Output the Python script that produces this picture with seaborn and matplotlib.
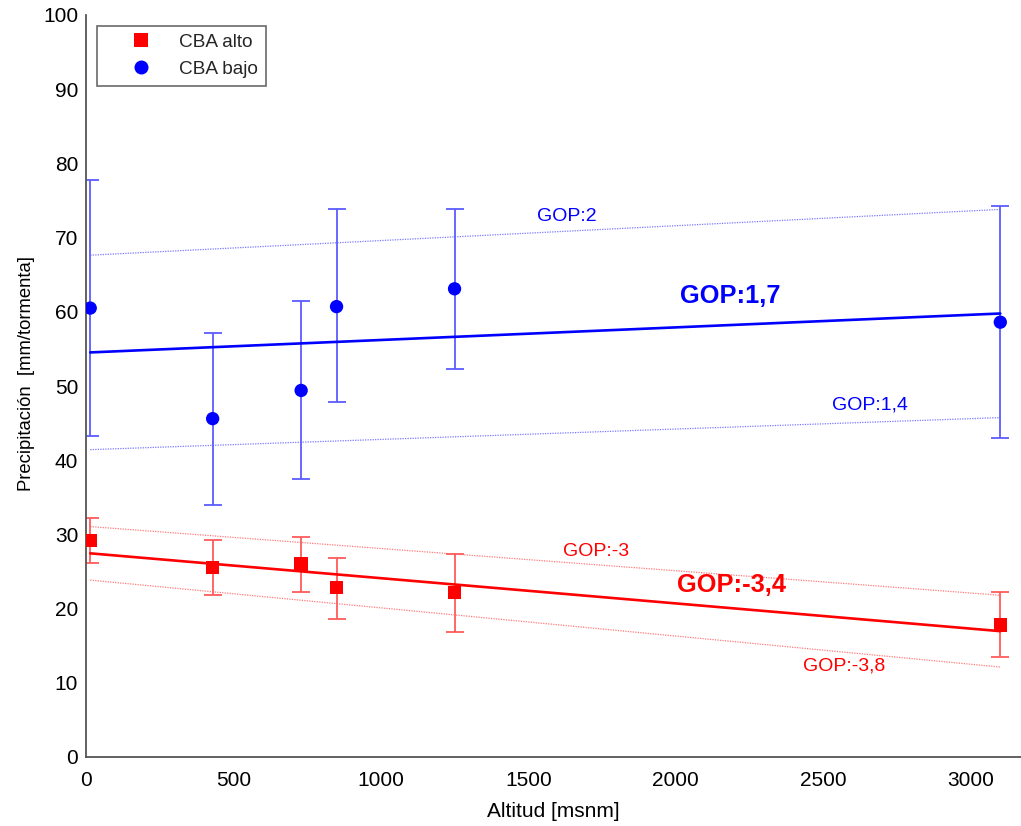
import numpy as np
import pandas as pd
import matplotlib
matplotlib.use("Agg")
import matplotlib.pyplot as plt
import seaborn as sns

# Station altitudes [m a.s.l.]
altitud = [15, 430, 730, 850, 1250, 3100]

# CBA alto: mean precipitation per storm and error-bar limits
alto_media = [29.2, 25.5, 26.0, 22.8, 22.2, 17.8]
alto_inf = [26.2, 21.8, 22.3, 18.6, 16.9, 13.5]
alto_sup = [32.2, 29.2, 29.7, 26.8, 27.4, 22.2]

# CBA bajo: mean precipitation per storm and error-bar limits
bajo_media = [60.5, 45.6, 49.4, 60.7, 63.1, 58.6]
bajo_inf = [43.2, 34.0, 37.4, 47.8, 52.3, 43.0]
bajo_sup = [77.8, 57.2, 61.4, 73.8, 73.9, 74.3]

# Orographic precipitation gradients (mm per 1000 m) and intercepts
gop_bajo = [2.0, 1.7, 1.4]
ord_bajo = [67.6, 54.5, 41.4]
gop_alto = [-3.0, -3.4, -3.8]
ord_alto = [31.1, 27.5, 23.9]

# Label positions (altitude, precipitation)
pos_bajo = [(1631, 72.9), (2184, 62.1), (2658, 47.4)]
pos_alto = [(1731, 27.7), (2189, 23.2), (2569, 12.2)]

x_ticks = [0, 500, 1000, 1500, 2000, 2500, 3000]
y_ticks = [0, 10, 20, 30, 40, 50, 60, 70, 80, 90, 100]

sns.set_theme(style="white")
plt.rcParams["font.family"] = ["Liberation Sans", "DejaVu Sans"]

ROJO = "#ff0000"
AZUL = "#0000ff"
ROJO_CLARO = "#ff5c5c"
AZUL_CLARO = "#5c5cff"

fig = plt.figure(figsize=(10.21, 8.26), dpi=100)
ax = fig.add_axes([85.8 / 1021, 69 / 826, 1 - 85.8 / 1021, 742 / 826])

grupos = ["CBA alto"] * len(altitud) + ["CBA bajo"] * len(altitud)
df = pd.DataFrame({
    "Altitud": altitud + altitud,
    "Precipitacion": alto_media + bajo_media,
    "Grupo": grupos,
})

# Error bars
for media, inf, sup, col in [(alto_media, alto_inf, alto_sup, ROJO_CLARO),
                             (bajo_media, bajo_inf, bajo_sup, AZUL_CLARO)]:
    m = np.array(media)
    ax.errorbar(altitud, m, yerr=[m - np.array(inf), np.array(sup) - m],
                fmt="none", ecolor=col, elinewidth=1.3, capsize=6.5,
                capthick=1.3, zorder=2)

# Fitted gradient lines
xr = np.array([min(altitud), max(altitud)])
for gops, ords, col, col_l in [(gop_bajo, ord_bajo, AZUL, "#7a7aff"),
                               (gop_alto, ord_alto, ROJO, "#ff7a7a")]:
    for i, (g, b) in enumerate(zip(gops, ords)):
        linea = pd.DataFrame({"x": xr, "y": b + g * xr / 1000.0})
        if i == 1:
            sns.lineplot(data=linea, x="x", y="y", ax=ax, color=col,
                         linewidth=1.9, zorder=2.5)
        else:
            sns.lineplot(data=linea, x="x", y="y", ax=ax, color=col_l,
                         linewidth=0.9, linestyle=(0, (1, 1)), zorder=1.5)

sns.scatterplot(data=df, x="Altitud", y="Precipitacion", hue="Grupo",
                style="Grupo", hue_order=["CBA alto", "CBA bajo"],
                style_order=["CBA alto", "CBA bajo"],
                markers={"CBA alto": "s", "CBA bajo": "o"},
                palette={"CBA alto": ROJO, "CBA bajo": AZUL},
                s=92, linewidth=0, ax=ax, zorder=3)

# GOP labels
def etiqueta(g):
    return "GOP:" + (f"{g:g}").replace(".", ",")

for gops, posiciones, col in [(gop_bajo, pos_bajo, AZUL), (gop_alto, pos_alto, ROJO)]:
    for i, (g, (px, py)) in enumerate(zip(gops, posiciones)):
        if i == 1:
            ax.text(px, py, etiqueta(g), color=col, fontsize=18.3,
                    fontweight="bold", ha="center", va="center")
        else:
            ax.text(px, py, etiqueta(g), color=col, fontsize=14,
                    ha="center", va="center")

ax.set_xlim(0, (1021 - 85.8) / 0.295)
ax.set_ylim(0, 100)
ax.set_xticks(x_ticks)
ax.set_yticks(y_ticks)
ax.set_xticklabels([str(t) for t in x_ticks])
ax.set_yticklabels([str(t) for t in y_ticks])

for s in ["top", "right"]:
    ax.spines[s].set_visible(False)
for s in ["left", "bottom"]:
    ax.spines[s].set_color("#555555")
    ax.spines[s].set_linewidth(1.3)
ax.tick_params(axis="both", direction="in", length=6.5, width=1.1,
               color="#555555", labelsize=15, labelcolor="black")
ax.tick_params(axis="x", pad=10)
ax.tick_params(axis="y", pad=5.5)

ax.set_xlabel("Altitud [msnm]", fontsize=15, color="black", labelpad=9)
ax.set_ylabel("Precipitación  [mm/tormenta]", fontsize=13.3, color="black")
ax.yaxis.set_label_coords(-0.0545, 0.5175)

leg = ax.legend(loc="upper left", bbox_to_anchor=(0.0117, 0.9856),
                borderaxespad=0, fontsize=13.7, frameon=True, fancybox=False,
                edgecolor="#444444", borderpad=0.42, handlelength=3.85,
                handletextpad=0.05, labelspacing=0.5, markerscale=1.05)
leg.get_frame().set_linewidth(1.2)
leg.get_frame().set_facecolor("white")

fig.savefig("out.png", dpi=100)
